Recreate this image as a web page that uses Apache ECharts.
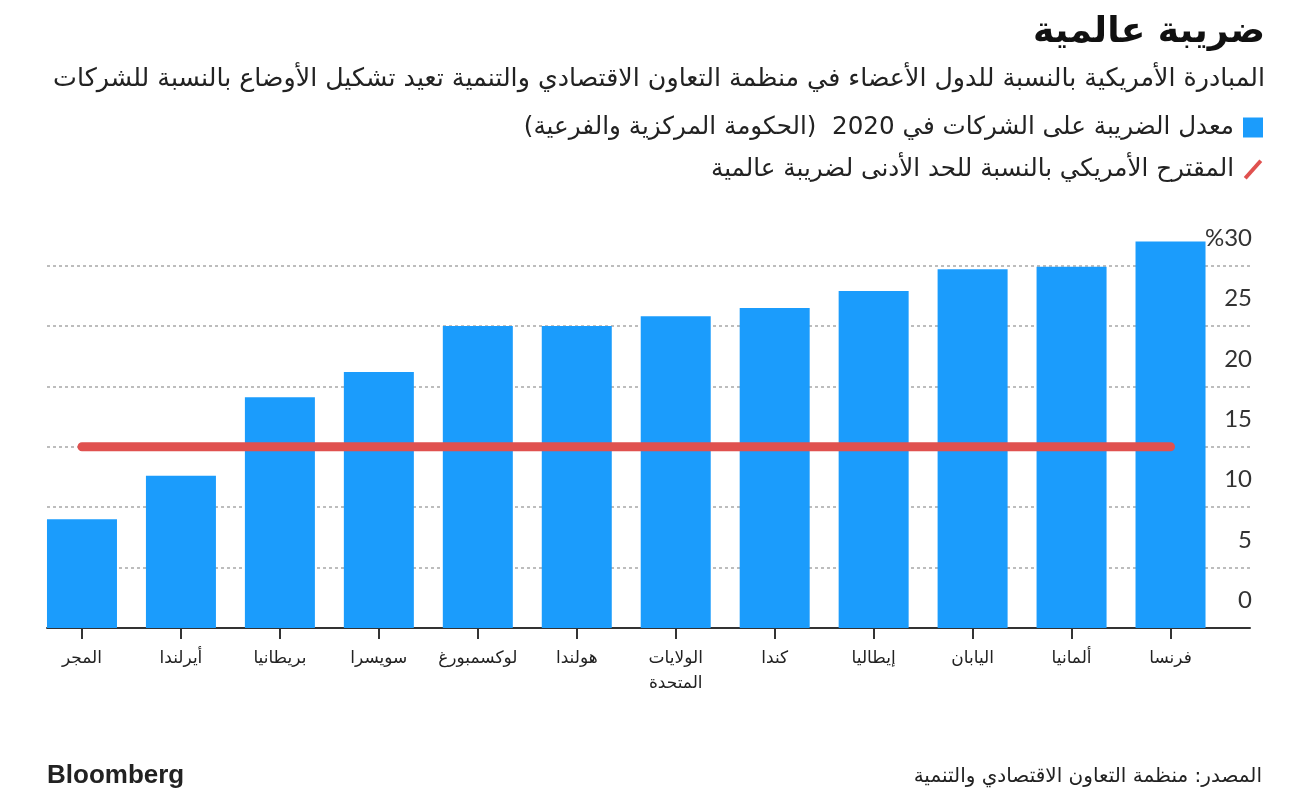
<!DOCTYPE html>
<html>
<head>
<meta charset="utf-8">
<style>
html,body{margin:0;padding:0;background:#fff;}
#chart{width:1296px;height:800px;}
</style>
<script src="https://cdn.jsdelivr.net/npm/echarts@6/dist/echarts.min.js"></script>
</head>
<body>
<div id="chart"></div>
<script>
// Data
const countries = ['المجر', 'أيرلندا', 'بريطانيا', 'سويسرا', 'لوكسمبورغ', 'هولندا', 'الولايات\nالمتحدة', 'كندا', 'إيطاليا', 'اليابان', 'ألمانيا', 'فرنسا'];
const taxRate2020 = [9.0, 12.6, 19.1, 21.2, 25.0, 25.0, 25.8, 26.5, 27.9, 29.7, 29.9, 32.0];
const usProposal = [15, 15, 15, 15, 15, 15, 15, 15, 15, 15, 15, 15];
const yTicks = [0, 5, 10, 15, 20, 25, 30];

const titleText = 'ضريبة عالمية';
const subtitleText = 'المبادرة الأمريكية بالنسبة للدول الأعضاء في منظمة التعاون الاقتصادي والتنمية تعيد تشكيل الأوضاع بالنسبة للشركات';
const legendBar = 'معدل الضريبة على الشركات في 2020  (الحكومة المركزية والفرعية)';
const legendLine = 'المقترح الأمريكي بالنسبة للحد الأدنى لضريبة عالمية';
const sourceText = 'المصدر: منظمة التعاون الاقتصادي والتنمية';

const AR = '"DejaVu Sans", "Noto Sans", sans-serif';
const BLUE = '#1b9cfc';
const RED = '#e0514f';

const chart = echarts.init(document.getElementById('chart'));
const gTop = 265.6, gBottom = 172;

chart.setOption({
  animation: false,
  backgroundColor: '#fff',
  title: [
    { text: titleText, right: 26, top: 10, textStyle: { fontFamily: AR, fontSize: 36, fontWeight: 'bold', color: '#111' } },
    { text: subtitleText, right: 26, top: 62, textStyle: { fontFamily: AR, fontSize: 25.3, fontWeight: 'normal', color: '#222' } },
    { text: 'Bloomberg', left: 42, top: 758, textStyle: { fontFamily: '"Liberation Sans", Arial, sans-serif', fontSize: 26, fontWeight: 'bold', color: '#222' } },
    { text: sourceText, right: 29, top: 762, textStyle: { fontFamily: AR, fontSize: 20, fontWeight: 'normal', color: '#222' } }
  ],
  legend: {
    orient: 'vertical',
    right: 28,
    top: 110,
    align: 'right',
    itemGap: 17,
    itemWidth: 20,
    itemHeight: 20,
    textStyle: { fontFamily: AR, fontSize: 24.6, color: '#222', padding: [0, 4, 0, 0] },
    data: [
      { name: legendBar, icon: 'rect' },
      { name: legendLine, icon: 'path://M0,18 L16,0 L19,2.5 L3,20.5 Z' }
    ]
  },
  grid: [
    { left: 47, right: 46, top: gTop, bottom: gBottom },
    { left: 32.5, right: 76, top: gTop, bottom: gBottom }
  ],
  xAxis: [
    {
      type: 'category', gridIndex: 0, data: countries,
      axisLine: { show: true, lineStyle: { color: '#333', width: 2 } },
      axisTick: { show: false }, axisLabel: { show: false }, splitLine: { show: false }
    },
    {
      type: 'category', gridIndex: 1, data: countries,
      axisLine: { show: false },
      axisTick: { show: true, alignWithLabel: true, interval: 0, length: 11, lineStyle: { color: '#333', width: 2 } },
      axisLabel: { show: true, interval: 0, margin: 18, fontFamily: AR, fontSize: 17, color: '#222', lineHeight: 25 },
      splitLine: { show: false }
    }
  ],
  yAxis: [
    {
      type: 'value', gridIndex: 0, position: 'right', min: 0, max: 30, interval: 5,
      axisLine: { show: false }, axisTick: { show: false },
      splitLine: { show: true, lineStyle: { color: '#a8a8a8', width: 1.5, type: [3, 3] } },
      axisLabel: {
        inside: true, margin: -2, verticalAlign: 'bottom', padding: [0, 0, 15, 0],
        fontFamily: 'Lato, "Open Sans", sans-serif', fontSize: 24, color: '#333', lineHeight: 25,
        formatter: function (v) { return v === 30 ? '%30' : String(v); }
      },
      z: 0
    },
    {
      type: 'value', gridIndex: 1, min: 0, max: 30, interval: 5, show: false
    }
  ],
  series: [
    {
      name: legendBar, type: 'bar', xAxisIndex: 1, yAxisIndex: 1,
      data: taxRate2020, barWidth: 70, clip: false,
      itemStyle: { color: BLUE }, z: 2
    },
    {
      name: legendLine, type: 'line', xAxisIndex: 1, yAxisIndex: 1,
      data: usProposal, symbol: 'none', showSymbol: false,
      lineStyle: { color: RED, width: 9, cap: 'round' },
      itemStyle: { color: RED }, z: 3
    }
  ]
});
</script>
</body>
</html>
